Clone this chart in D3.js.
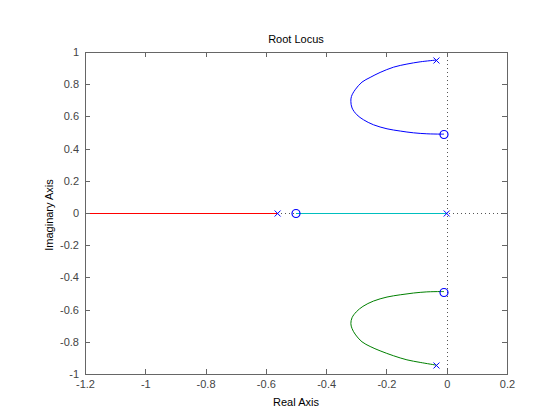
<!DOCTYPE html>
<html><head><meta charset="utf-8">
<script src="https://cdn.jsdelivr.net/npm/d3@7"></script>
<style>body{margin:0;background:#fff}svg{display:block}</style>
</head><body>
<svg id="c" width="560" height="420"></svg>
<script>
const xTicks = [-1.2, -1, -0.8, -0.6, -0.4, -0.2, 0, 0.2];
const yTicks = [-1, -0.8, -0.6, -0.4, -0.2, 0, 0.2, 0.4, 0.6, 0.8, 1];
const upperRe = [-0.034, -0.088, -0.132, -0.176, -0.221, -0.254, -0.281, -0.304, -0.316, -0.318, -0.314, -0.298, -0.276, -0.243, -0.198, -0.154, -0.110, -0.066, -0.022, -0.009];
const upperIm = [0.950, 0.939, 0.925, 0.906, 0.873, 0.842, 0.813, 0.765, 0.724, 0.693, 0.652, 0.610, 0.579, 0.548, 0.523, 0.509, 0.498, 0.492, 0.490, 0.490];
const lowerRe = [-0.034, -0.088, -0.132, -0.176, -0.221, -0.254, -0.281, -0.304, -0.314, -0.318, -0.314, -0.300, -0.278, -0.243, -0.198, -0.154, -0.110, -0.066, -0.022, -0.009];
const lowerIm = [-0.945, -0.928, -0.912, -0.887, -0.856, -0.829, -0.800, -0.752, -0.718, -0.687, -0.650, -0.614, -0.580, -0.547, -0.522, -0.508, -0.497, -0.490, -0.488, -0.488];
const realBranchLeft = [[-1.2, 0], [-0.561, 0]];
const realBranchRight = [[-0.5, 0], [0, 0]];
const polesRe = [-0.034, -0.034, -0.561, 0];
const polesIm = [0.950, -0.945, 0, 0];
const zerosRe = [-0.009, -0.009, -0.5];
const zerosIm = [0.490, -0.488, 0];

const W = 560, H = 420;
const m = {l: 85, r: 53, t: 52, b: 46};
const svg = d3.select('#c');
const x = d3.scaleLinear().domain([-1.2, 0.2]).range([m.l, W - m.r]);
const y = d3.scaleLinear().domain([-1, 1]).range([H - m.b, m.t]);
const axisCol = '#666';
const txtCol = '#444';
const font = '"Liberation Sans", Arial, sans-serif';
const px = v => Math.round(v) + 0.5;

// dotted reference lines
svg.append('line').attr('x1', x(-1.2)).attr('x2', x(0.2)).attr('y1', px(y(0))).attr('y2', px(y(0)))
  .attr('stroke', '#555').attr('stroke-width', 1).attr('stroke-dasharray', '1,3').attr('shape-rendering', 'crispEdges');
svg.append('line').attr('x1', px(x(0))).attr('x2', px(x(0))).attr('y1', y(1)).attr('y2', y(-1))
  .attr('stroke', '#555').attr('stroke-width', 1).attr('stroke-dasharray', '1,3').attr('shape-rendering', 'crispEdges');

const line = d3.line().x(d => x(d[0])).y(d => y(d[1])).curve(d3.curveCatmullRom);
const lineStraight = d3.line().x(d => x(d[0])).y(d => px(y(d[1])));

svg.append('path').attr('d', lineStraight(realBranchLeft)).attr('fill', 'none').attr('stroke', '#ff0000').attr('stroke-width', 1).attr('shape-rendering', 'crispEdges');
svg.append('path').attr('d', lineStraight(realBranchRight)).attr('fill', 'none').attr('stroke', '#00bfbf').attr('stroke-width', 1).attr('shape-rendering', 'crispEdges');
svg.append('path').attr('d', line(d3.zip(upperRe, upperIm))).attr('fill', 'none').attr('stroke', '#0000ff').attr('stroke-width', 1);
svg.append('path').attr('d', line(d3.zip(lowerRe, lowerIm))).attr('fill', 'none').attr('stroke', '#008000').attr('stroke-width', 1);

// poles (x markers)
const s = 3;
d3.zip(polesRe, polesIm).forEach(p => {
  const cx = x(p[0]), cy = px(y(p[1]));
  svg.append('path').attr('d', `M${cx - s},${cy - s}L${cx + s},${cy + s}M${cx - s},${cy + s}L${cx + s},${cy - s}`)
    .attr('stroke', '#0000ff').attr('stroke-width', 1).attr('fill', 'none');
});
// zeros (circles)
d3.zip(zerosRe, zerosIm).forEach(p => {
  svg.append('circle').attr('cx', x(p[0])).attr('cy', px(y(p[1]))).attr('r', 4)
    .attr('stroke', '#0000ff').attr('stroke-width', 1.2).attr('fill', 'none');
});

// box
svg.append('rect').attr('x', m.l + 0.5).attr('y', m.t + 0.5).attr('width', W - m.l - m.r).attr('height', H - m.t - m.b)
  .attr('fill', 'none').attr('stroke', axisCol).attr('stroke-width', 1).attr('shape-rendering', 'crispEdges');

// axes with inward ticks
const fmt = d => String(+d.toFixed(1));
const xb = svg.append('g').attr('transform', `translate(0,${H - m.b})`)
  .call(d3.axisBottom(x).tickValues(xTicks).tickSize(-5).tickPadding(6).tickFormat(fmt));
const xt = svg.append('g').attr('transform', `translate(0,${m.t})`)
  .call(d3.axisTop(x).tickValues(xTicks).tickSize(-5).tickFormat(''));
const yl = svg.append('g').attr('transform', `translate(${m.l},0)`)
  .call(d3.axisLeft(y).tickValues(yTicks).tickSize(-5).tickPadding(6).tickFormat(fmt));
const yr = svg.append('g').attr('transform', `translate(${W - m.r},0)`)
  .call(d3.axisRight(y).tickValues(yTicks).tickSize(-5).tickFormat(''));
[xb, xt, yl, yr].forEach(g => {
  g.select('.domain').remove();
  g.selectAll('line').attr('stroke', axisCol).attr('shape-rendering', 'crispEdges');
  g.selectAll('text').attr('fill', txtCol).style('font-family', font).style('font-size', '11px');
});

svg.append('text').attr('x', (m.l + W - m.r) / 2).attr('y', 43).attr('text-anchor', 'middle')
  .style('font-family', font).style('font-size', '11px').attr('fill', '#000').text('Root Locus');
svg.append('text').attr('x', (m.l + W - m.r) / 2).attr('y', 406).attr('text-anchor', 'middle')
  .style('font-family', font).style('font-size', '11px').attr('fill', '#000').text('Real Axis');
svg.append('text').attr('transform', `translate(53,${y(0) + 2}) rotate(-90)`).attr('text-anchor', 'middle')
  .style('font-family', font).style('font-size', '11px').attr('fill', '#000').text('Imaginary Axis');
</script>
</body></html>
